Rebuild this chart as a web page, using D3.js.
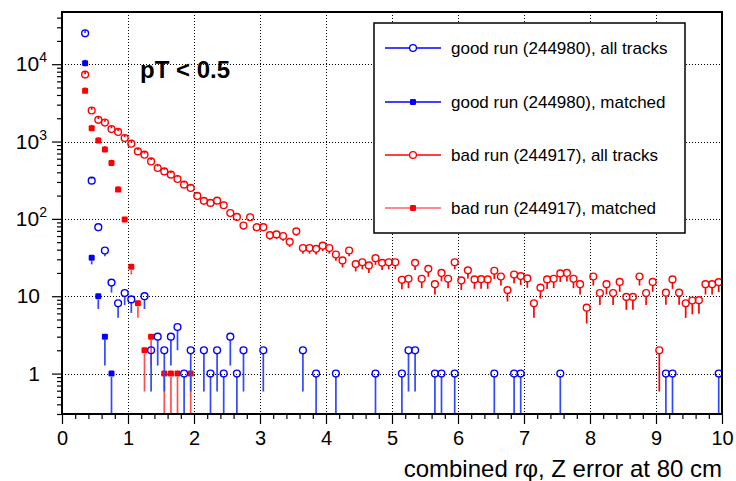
<!DOCTYPE html>
<html>
<head>
<meta charset="utf-8">
<script src="https://cdn.jsdelivr.net/npm/d3@7"></script>
<style>
  body { margin: 0; background: #fff; }
  svg { display: block; font-family: "Liberation Sans", Arial, sans-serif; }
</style>
</head>
<body>
<script>
// bins are 0.1 wide, first centre at 0.35
var binCenters = d3.range(35, 1000, 10).map(function (d) { return d / 100; });

// bad run (244917), all tracks : one value per bin
var badAll = [
  7340, 2520, 1910, 1760, 1450, 1330, 1110, 937, 745, 676,
  553, 455, 411, 373, 328, 277, 251, 198, 171, 161,
  172, 150, 119, 106, 82, 105, 78, 78, 61.5, 63,
  60, 50.5, 69, 42, 42, 41, 45, 42, 34.6, 29,
  39, 26, 27.5, 25, 31, 27, 27.5, 27.5, 16.3, 16.8,
  27, 16.8, 22.6, 14.3, 20, 16.8, 27.5, 16, 21.6, 16.5,
  16.6, 16.5, 21.3, 18, 12, 19.1, 18.2, 17, 8.1, 12.9,
  16.5, 16.8, 19.7, 20, 16.8, 14.3, 7.1, 18, 11, 14.3,
  11, 15.3, 9.8, 9.8, 18, 11, 15.3, 2, 11.1, 16.5,
  11.1, 8.1, 8.8, 8.9, 14.3, 14.3, 15.2
];

// bad run (244917), matched : [bin centre, count]
var badMatched = [
  [0.35, 4520], [0.45, 1490], [0.55, 1030], [0.65, 790], [0.75, 528],
  [0.85, 239], [0.95, 98], [1.05, 24], [1.15, 8.1], [1.25, 2],
  [1.35, 3], [1.55, 1], [1.65, 1], [1.75, 1], [1.95, 1]
];

// good run (244980), all tracks
var goodAll = [
  [0.35, 25100], [0.45, 312], [0.55, 78], [0.65, 39], [0.75, 15],
  [0.85, 8.1], [0.95, 11], [1.05, 9.1], [1.25, 10], [1.35, 2],
  [1.45, 3], [1.55, 2], [1.65, 3], [1.75, 4], [1.85, 1],
  [1.95, 2], [2.15, 2], [2.25, 1], [2.35, 2], [2.45, 1],
  [2.55, 3], [2.65, 1], [2.75, 2], [3.05, 2], [3.65, 2],
  [3.85, 1], [4.15, 1], [4.75, 1], [5.15, 1], [5.25, 2],
  [5.35, 2], [5.65, 1], [5.75, 1], [5.95, 1], [6.55, 1],
  [6.85, 1], [6.95, 1], [7.55, 1], [9.15, 1], [9.25, 1], [9.95, 1]
];

// good run (244980), matched
var goodMatched = [
  [0.35, 10300], [0.45, 31.4], [0.55, 10], [0.65, 3], [0.75, 1]
];

var legendLabels = [
  'good run (244980), all tracks',
  'good run (244980), matched',
  'bad run (244917), all tracks',
  'bad run (244917), matched'
];
var xTickLabels = ['0', '1', '2', '3', '4', '5', '6', '7', '8', '9', '10'];
var yMajor = [1, 10, 100, 1000, 10000];

var width = 736,
    height = 481,
    frame = {left: 62, right: 722, top: 12, bottom: 414};

var x = d3.scaleLinear().domain([0, 10]).range([frame.left, frame.right]),
    y = d3.scaleLog().domain([0.3, 47300]).range([frame.bottom, frame.top]);

var svg = d3.select('body').append('svg')
    .attr('width', width)
    .attr('height', height);

svg.append('defs').append('clipPath').attr('id', 'clip')
  .append('rect')
    .attr('x', frame.left).attr('y', frame.top)
    .attr('width', frame.right - frame.left)
    .attr('height', frame.bottom - frame.top);

// dotted grid
var grid = svg.append('g').attr('class', 'grid')
    .attr('stroke', '#000').attr('stroke-width', 1).attr('stroke-dasharray', '1,2');
grid.selectAll('.gx').data(d3.range(1, 10)).enter().append('line')
    .attr('x1', function (d) { return x(d) + 0.5; })
    .attr('x2', function (d) { return x(d) + 0.5; })
    .attr('y1', frame.top).attr('y2', frame.bottom);
grid.selectAll('.gy').data(yMajor).enter().append('line')
    .attr('x1', frame.left).attr('x2', frame.right)
    .attr('y1', function (d) { return Math.round(y(d)) + 0.5; })
    .attr('y2', function (d) { return Math.round(y(d)) + 0.5; });

var plot = svg.append('g').attr('clip-path', 'url(#clip)');

function toPoints(pairs) {
  return pairs.map(function (p) { return {x: p[0], v: p[1]}; });
}

var series = [
  {name: 'badAll', color: '#ff0000', bar: '#ff0000', open: true,
   data: badAll.map(function (v, i) { return {x: binCenters[i], v: v}; })},
  {name: 'badMatched', color: '#ff0000', bar: '#ff5050', open: false, data: toPoints(badMatched)},
  {name: 'goodAll', color: '#0000ff', bar: '#3048ff', open: true, data: toPoints(goodAll)},
  {name: 'goodMatched', color: '#0000ff', bar: '#3048ff', open: false, data: toPoints(goodMatched)}
];

var r = 3.4;

series.forEach(function (s) {
  var g = plot.append('g').attr('class', s.name);

  // sqrt(N) error bars, with a gap where the marker sits
  g.selectAll('line.up').data(s.data).enter().append('line')
      .attr('stroke', s.bar).attr('stroke-width', 1.7)
      .attr('x1', function (d) { return x(d.x); })
      .attr('x2', function (d) { return x(d.x); })
      .attr('y1', function (d) { return y(d.v + Math.sqrt(d.v)); })
      .attr('y2', function (d) { return Math.min(y(d.v) - r, y(d.v + Math.sqrt(d.v))); });
  g.selectAll('line.down').data(s.data).enter().append('line')
      .attr('stroke', s.bar).attr('stroke-width', 1.7)
      .attr('x1', function (d) { return x(d.x); })
      .attr('x2', function (d) { return x(d.x); })
      .attr('y1', function (d) { return y(d.v) + r; })
      .attr('y2', function (d) {
        var lo = d.v - Math.sqrt(d.v);
        return lo > 0.3 ? Math.max(y(lo), y(d.v) + r) : frame.bottom + 2;
      });

  if (s.open) {
    g.selectAll('circle').data(s.data).enter().append('circle')
        .attr('cx', function (d) { return x(d.x); })
        .attr('cy', function (d) { return y(d.v); })
        .attr('r', r)
        .attr('fill', 'none')
        .attr('stroke', s.color)
        .attr('stroke-width', 1.4);
  } else {
    g.selectAll('rect').data(s.data).enter().append('rect')
        .attr('x', function (d) { return x(d.x) - 3; })
        .attr('y', function (d) { return y(d.v) - 3; })
        .attr('width', 6).attr('height', 6).attr('rx', 1.2)
        .attr('fill', s.color);
  }
});

// frame
svg.append('rect')
    .attr('x', frame.left).attr('y', frame.top)
    .attr('width', frame.right - frame.left)
    .attr('height', frame.bottom - frame.top)
    .attr('fill', 'none').attr('stroke', '#000').attr('stroke-width', 2);

// x axis, ticks pointing out
var xTicks = d3.range(0, 51).map(function (i) { return i / 5; });
var axisX = d3.axisBottom(x).tickValues(xTicks).tickSizeOuter(0)
    .tickSize(5).tickFormat(function (d) { return Number.isInteger(d) ? xTickLabels[d] : ''; });
var gx = svg.append('g')
    .attr('transform', 'translate(0,' + frame.bottom + ')')
    .call(axisX);
gx.select('.domain').remove();
gx.selectAll('.tick line').attr('stroke', '#000').attr('stroke-width', 1.2)
    .attr('y2', function (d) { return Number.isInteger(d) ? 10 : 5; });
gx.selectAll('.tick text').attr('y', 17).attr('font-size', 20)
    .attr('font-family', '"Liberation Sans", Arial, sans-serif').attr('fill', '#000');

// y axis, log minor ticks pointing out
var yTicks = [];
[0.1, 1, 10, 100, 1000, 10000].forEach(function (dec) {
  for (var k = 1; k < 10; k++) {
    var v = dec * k;
    if (v >= 0.3 && v <= 47300) yTicks.push(v);
  }
});
var axisY = d3.axisLeft(y).tickValues(yTicks).tickSize(5).tickSizeOuter(0).tickFormat('');
var gy = svg.append('g')
    .attr('transform', 'translate(' + frame.left + ',0)')
    .call(axisY);
gy.select('.domain').remove();
gy.selectAll('.tick line').attr('stroke', '#000').attr('stroke-width', 1.2)
    .attr('x2', function (d) { return yMajor.indexOf(d) >= 0 ? -10 : -5; });

var yLab = svg.append('g').attr('font-size', 21).attr('fill', '#000');
yMajor.forEach(function (d) {
  var exp = Math.round(Math.log10(d));
  var t = yLab.append('text')
      .attr('y', y(d) + 7);
  if (exp < 2) {
    t.attr('x', 40).attr('text-anchor', 'end').text(exp === 0 ? '1' : '10');
  } else {
    t.attr('x', 47).attr('text-anchor', 'end');
    t.append('tspan').text('10');
    t.append('tspan').attr('dy', -9).attr('font-size', 14).text(exp);
  }
});

// axis title
svg.append('text')
    .attr('x', frame.right).attr('y', 477)
    .attr('text-anchor', 'end').attr('font-size', 24)
    .text('combined r\u03c6, Z error at 80 cm');

// cut label
svg.append('text')
    .attr('x', 140).attr('y', 78)
    .attr('font-size', 24).attr('font-weight', 'bold')
    .text('pT < 0.5');

// legend
var legend = svg.append('g');
legend.append('rect')
    .attr('x', 374).attr('y', 23).attr('width', 311).attr('height', 210)
    .attr('fill', '#fff').attr('stroke', '#000').attr('stroke-width', 1.5);
var rows = [48, 102, 155, 208];
var legendStyle = [
  {color: '#0000ff', line: '#0000ff', open: true},
  {color: '#0000ff', line: '#0000ff', open: false},
  {color: '#ff0000', line: '#ff0000', open: true},
  {color: '#ff0000', line: '#ff6060', open: false}
];
legendLabels.forEach(function (label, i) {
  var st = legendStyle[i], yy = rows[i];
  legend.append('line')
      .attr('x1', 385).attr('x2', 441).attr('y1', yy).attr('y2', yy)
      .attr('stroke', st.line).attr('stroke-width', 1.5);
  if (st.open) {
    legend.append('circle').attr('cx', 413).attr('cy', yy).attr('r', r)
        .attr('fill', '#fff').attr('stroke', st.color).attr('stroke-width', 1.3);
  } else {
    legend.append('rect').attr('x', 410).attr('y', yy - 3).attr('width', 6).attr('height', 6)
        .attr('rx', 1.2).attr('fill', st.color);
  }
  legend.append('text')
      .attr('x', 451).attr('y', yy + 6)
      .attr('font-size', 17).attr('fill', '#000')
      .text(label);
});
</script>
</body>
</html>
